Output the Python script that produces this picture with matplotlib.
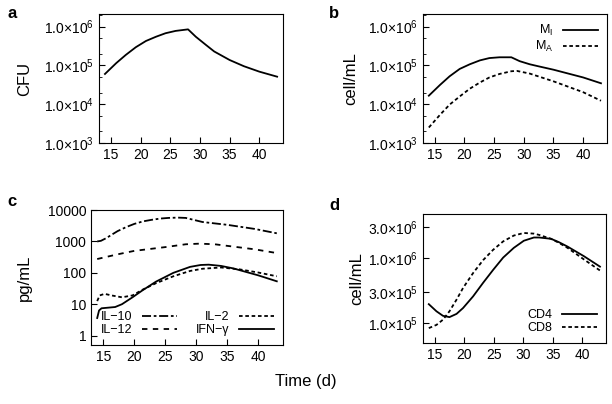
import numpy as np
import matplotlib
matplotlib.use('Agg')
import matplotlib.pyplot as plt
from matplotlib.ticker import LogLocator, FixedLocator, NullLocator, NullFormatter

plt.rcParams['font.family'] = ['Liberation Sans', 'DejaVu Sans']
plt.rcParams['mathtext.fontset'] = 'custom'
plt.rcParams['mathtext.rm'] = 'Liberation Sans'
plt.rcParams['mathtext.it'] = 'Liberation Sans:italic'

# panel a - bacteria (CFU), log10 values
t_a = [14, 15.9, 17.5, 19.2, 20.9, 22.6, 24.2, 25.9, 28, 29.3, 31, 32.4, 35, 37.4, 40, 43]
log_cfu = [4.78, 5.06, 5.27, 5.47, 5.63, 5.74, 5.83, 5.89, 5.93, 5.74, 5.53, 5.36, 5.14, 4.98, 4.84, 4.71]

# panel b - macrophages
t_mi = [14, 15.9, 17.5, 19.2, 20.9, 22.6, 24.2, 25.9, 27.9, 29.3, 31, 32.4, 35, 40, 43]
log_mi = [4.22, 4.50, 4.72, 4.91, 5.03, 5.13, 5.19, 5.21, 5.21, 5.11, 5.03, 4.98, 4.89, 4.69, 4.54]
t_ma = [14, 15.9, 17.5, 19.2, 20.9, 22.6, 24.2, 25.9, 27.9, 28.8, 31, 32.4, 35, 40, 43]
log_ma = [3.40, 3.73, 3.99, 4.20, 4.40, 4.56, 4.69, 4.78, 4.85, 4.86, 4.79, 4.72, 4.59, 4.31, 4.09]

# panel c - cytokines
t_il10 = [14, 14.6, 15.5, 16.3, 17.3, 18.7, 20, 21.4, 22.8, 24.2, 25.5, 27, 28.3, 31, 35, 39.4, 43]
log_il10 = [3.0, 3.02, 3.11, 3.21, 3.33, 3.46, 3.56, 3.64, 3.69, 3.73, 3.75, 3.76, 3.75, 3.62, 3.53, 3.40, 3.26]
t_il12 = [14, 17.3, 20, 25, 28.3, 30.5, 33, 35, 39.4, 43]
log_il12 = [2.44, 2.59, 2.70, 2.82, 2.91, 2.93, 2.91, 2.86, 2.75, 2.63]
t_il2 = [14, 14.4, 15.2, 16.3, 18, 19.7, 21.3, 23.5, 26.3, 29, 31, 34, 37, 40, 43]
log_il2 = [1.1, 1.28, 1.33, 1.28, 1.22, 1.28, 1.46, 1.67, 1.89, 2.06, 2.13, 2.17, 2.11, 2.01, 1.89]
t_ifn = [14, 14.3, 14.7, 15.8, 16.9, 18, 19.7, 21.3, 23.5, 26.3, 29, 30.7, 32, 34, 36, 38, 40, 43]
log_ifn = [0.56, 0.8, 0.87, 0.89, 0.91, 1.0, 1.22, 1.44, 1.72, 2.0, 2.19, 2.25, 2.26, 2.22, 2.14, 2.03, 1.92, 1.73]

# panel d - T cells
t_cd = [14, 15.3, 16.4, 17.5, 18.7, 19.8, 21.5, 23.2, 24.9, 26.6, 28.4, 30.1, 31.8, 32.7, 34.7, 36, 37.5, 40.3, 43]
log_cd4 = [5.29, 5.18, 5.11, 5.09, 5.14, 5.23, 5.41, 5.62, 5.82, 6.01, 6.16, 6.27, 6.32, 6.32, 6.30, 6.25, 6.18, 6.03, 5.87]
log_cd8 = [4.92, 4.97, 5.05, 5.18, 5.36, 5.54, 5.77, 5.97, 6.13, 6.26, 6.35, 6.39, 6.38, 6.36, 6.30, 6.24, 6.16, 5.98, 5.81]


def sci(v):
    e = int(np.floor(np.log10(v) + 1e-9))
    m = v / 10 ** e
    return r'$%.1f{\times}10^{%d}$' % (m, e)


fig = plt.figure(figsize=(6.12, 4.04), dpi=100)
ax_a = fig.add_axes([0.1618, 0.646, 0.3007, 0.319])
ax_b = fig.add_axes([0.691, 0.646, 0.3007, 0.319])
ax_c = fig.add_axes([0.1487, 0.146, 0.3137, 0.334])
ax_d = fig.add_axes([0.691, 0.151, 0.299, 0.319])

lw = 1.3
for ax in [ax_a, ax_b, ax_c, ax_d]:
    ax.set_yscale('log')
    ax.set_xlim(13, 44)
    ax.set_xticks([15, 20, 25, 30, 35, 40])
    ax.tick_params(direction='in', labelsize=10, top=False, right=False, length=4)
    ax.tick_params(which='minor', direction='in', length=2.5)
    for s in ax.spines.values():
        s.set_linewidth(0.8)

# a
ax_a.plot(t_a, [10 ** v for v in log_cfu], color='black', lw=lw)
ax_a.set_ylim(1e3, 2.1e6)
ax_a.yaxis.set_major_locator(FixedLocator([1e3, 1e4, 1e5, 1e6]))
ax_a.yaxis.set_minor_locator(LogLocator(base=10, subs=(2, 5)))
ax_a.yaxis.set_minor_formatter(NullFormatter())
ax_a.set_yticklabels([sci(v) for v in [1e3, 1e4, 1e5, 1e6]])
ax_a.set_ylabel('CFU', fontsize=12, labelpad=9)

# b
ax_b.plot(t_mi, [10 ** v for v in log_mi], color='black', lw=lw, label=r'M$_\mathregular{I}$')
ax_b.plot(t_ma, [10 ** v for v in log_ma], color='black', lw=lw, dashes=(2, 1.5), label=r'M$_\mathregular{A}$')
ax_b.set_ylim(1e3, 2.1e6)
ax_b.yaxis.set_major_locator(FixedLocator([1e3, 1e4, 1e5, 1e6]))
ax_b.yaxis.set_minor_locator(LogLocator(base=10, subs=(2, 5)))
ax_b.yaxis.set_minor_formatter(NullFormatter())
ax_b.set_yticklabels([sci(v) for v in [1e3, 1e4, 1e5, 1e6]])
ax_b.set_ylabel('cell/mL', fontsize=12, labelpad=7)
ax_b.legend(loc='upper right', frameon=False, markerfirst=False, fontsize=9,
            handlelength=2.8, labelspacing=0.1, borderaxespad=0.3)

# c
ax_c.plot(t_il10, [10 ** v for v in log_il10], color='black', lw=lw, dashes=(5, 1.5, 1.5, 1.5), label='IL\u221210')
ax_c.plot(t_il12, [10 ** v for v in log_il12], color='black', lw=lw, dashes=(3, 3), label='IL\u221212')
ax_c.plot(t_il2, [10 ** v for v in log_il2], color='black', lw=lw, dashes=(2, 1.5), label='IL\u22122')
ax_c.plot(t_ifn, [10 ** v for v in log_ifn], color='black', lw=lw, label='IFN\u2212\u03b3')
ax_c.set_ylim(0.5, 1e4)
ax_c.yaxis.set_major_locator(FixedLocator([1, 10, 100, 1000, 10000]))
ax_c.yaxis.set_minor_locator(NullLocator())
ax_c.set_yticklabels(['1', '10', '100', '1000', '10000'])
ax_c.set_ylabel('pg/mL', fontsize=12, labelpad=11)
ax_c.legend(loc='lower right', ncol=2, frameon=False, markerfirst=False, fontsize=9,
            handlelength=2.8, labelspacing=0.1, columnspacing=1.5, borderaxespad=0.3)

# d
ax_d.plot(t_cd, [10 ** v for v in log_cd4], color='black', lw=lw, label='CD4')
ax_d.plot(t_cd, [10 ** v for v in log_cd8], color='black', lw=lw, dashes=(2, 1.5), label='CD8')
ax_d.set_ylim(4.9e4, 4.8e6)
ax_d.yaxis.set_major_locator(FixedLocator([1e5, 3e5, 1e6, 3e6]))
ax_d.yaxis.set_minor_locator(NullLocator())
ax_d.set_yticklabels([sci(v) for v in [1e5, 3e5, 1e6, 3e6]])
ax_d.set_ylabel('cell/mL', fontsize=12, labelpad=3)
ax_d.legend(loc='lower right', frameon=False, markerfirst=False, fontsize=9,
            handlelength=2.8, labelspacing=0.1, borderaxespad=0.3)

fig.text(0.012, 0.955, 'a', fontsize=12, fontweight='bold')
fig.text(0.538, 0.955, 'b', fontsize=12, fontweight='bold')
fig.text(0.012, 0.49, 'c', fontsize=12, fontweight='bold')
fig.text(0.538, 0.48, 'd', fontsize=12, fontweight='bold')
fig.text(0.5, 0.045, 'Time (d)', fontsize=12, ha='center')

fig.savefig('out.png', dpi=100)
